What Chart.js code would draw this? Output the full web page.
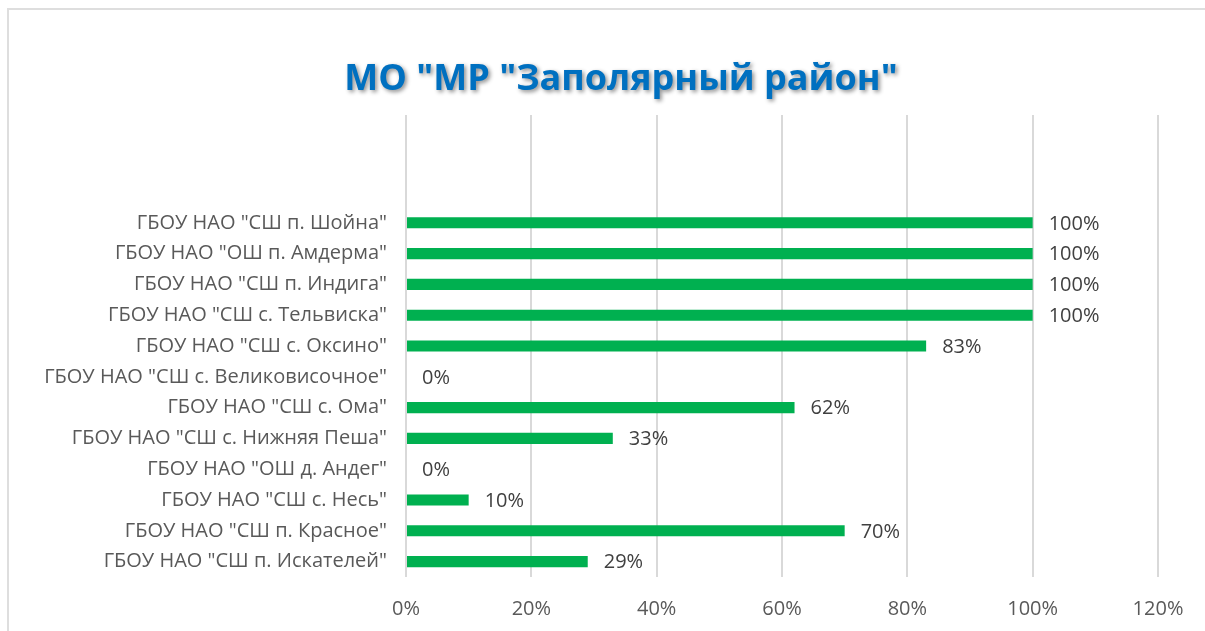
<!DOCTYPE html>
<html>
<head>
<meta charset="utf-8">
<script src="https://cdn.jsdelivr.net/npm/chart.js@4"></script>
<style>
  html, body { margin: 0; padding: 0; background: #fff; }
  #wrap { position: relative; width: 1205px; height: 631px; overflow: hidden; }
  #frame { position: absolute; left: 7px; top: 8px; width: 1300px; height: 700px; border: 2px solid #dedede; }
  canvas { position: absolute; left: 0; top: 0; }
</style>
</head>
<body>
<div id="wrap">
  <div id="frame"></div>
  <canvas id="chart" width="1205" height="631"></canvas>
</div>
<script>
const title = 'МО "МР "Заполярный район"';

const schools = [
  'ГБОУ НАО "СШ п. Шойна"',
  'ГБОУ НАО "ОШ п. Амдерма"',
  'ГБОУ НАО "СШ п. Индига"',
  'ГБОУ НАО "СШ с. Тельвиска"',
  'ГБОУ НАО "СШ с. Оксино"',
  'ГБОУ НАО "СШ с. Великовисочное"',
  'ГБОУ НАО "СШ с. Ома"',
  'ГБОУ НАО "СШ с. Нижняя Пеша"',
  'ГБОУ НАО "ОШ д. Андег"',
  'ГБОУ НАО "СШ с. Несь"',
  'ГБОУ НАО "СШ п. Красное"',
  'ГБОУ НАО "СШ п. Искателей"',
];

const shares = [100, 100, 100, 100, 83, 0, 62, 33, 0, 10, 70, 29];

const xTicks = [0, 20, 40, 60, 80, 100, 120];

// Excel left empty room above the first bar; keep it as blank rows
const blankRows = 3;
const labels = Array(blankRows).fill("").concat(schools);
const values = Array(blankRows).fill(null).concat(shares);

const titlePlugin = {
  id: "shadowTitle",
  afterDraw(chart) {
    const ctx = chart.ctx;
    ctx.save();
    ctx.font = "bold 36px 'Open Sans'";
    ctx.fillStyle = "#0070C0";
    ctx.textAlign = "center";
    ctx.textBaseline = "middle";
    ctx.shadowColor = "rgba(0,0,0,0.45)";
    ctx.shadowBlur = 4;
    ctx.shadowOffsetX = 2;
    ctx.shadowOffsetY = 2;
    ctx.fillText(title, 621, 80);
    ctx.restore();
  },
};

const valueLabels = {
  id: "valueLabels",
  afterDatasetsDraw(chart) {
    const ctx = chart.ctx;
    const meta = chart.getDatasetMeta(0);
    ctx.save();
    ctx.font = "20px 'Open Sans'";
    ctx.fillStyle = "#404040";
    ctx.textAlign = "left";
    ctx.textBaseline = "middle";
    meta.data.forEach((bar, i) => {
      const v = values[i];
      if (v == null) return;
      ctx.fillText(v + "%", bar.x + 16, bar.y + 1);
    });
    ctx.restore();
  },
};

new Chart(document.getElementById("chart"), {
  type: "bar",
  data: {
    labels,
    datasets: [
      {
        data: values,
        backgroundColor: "#00B050",
        borderWidth: 0,
        categoryPercentage: 1,
        barPercentage: 0.36,
      },
    ],
  },
  options: {
    indexAxis: "y",
    responsive: false,
    animation: false,
    layout: { padding: { left: 0, right: 47, top: 115, bottom: 0 } },
    plugins: {
      legend: { display: false },
      tooltip: { enabled: false },
      title: { display: false },
    },
    scales: {
      x: {
        min: 0,
        max: 120,
        afterBuildTicks: (s) => { s.ticks = xTicks.map((v) => ({ value: v })); },
        afterFit: (s) => { s.height = 54; },
        grid: { color: "#d9d9d9", lineWidth: 2, drawTicks: false },
        border: { display: false },
        ticks: {
          padding: 20,
          color: "#595959",
          font: { family: "'Open Sans'", size: 20 },
          callback: (v) => v + "%",
        },
      },
      y: {
        afterFit: (s) => { s.width = 406; },
        grid: { display: false, drawTicks: false },
        border: { display: false },
        ticks: {
          padding: 19,
          color: "#595959",
          crossAlign: "near",
          autoSkip: false,
          font: { family: "'Open Sans'", size: 20 },
        },
      },
    },
  },
  plugins: [titlePlugin, valueLabels],
});
</script>
</body>
</html>
